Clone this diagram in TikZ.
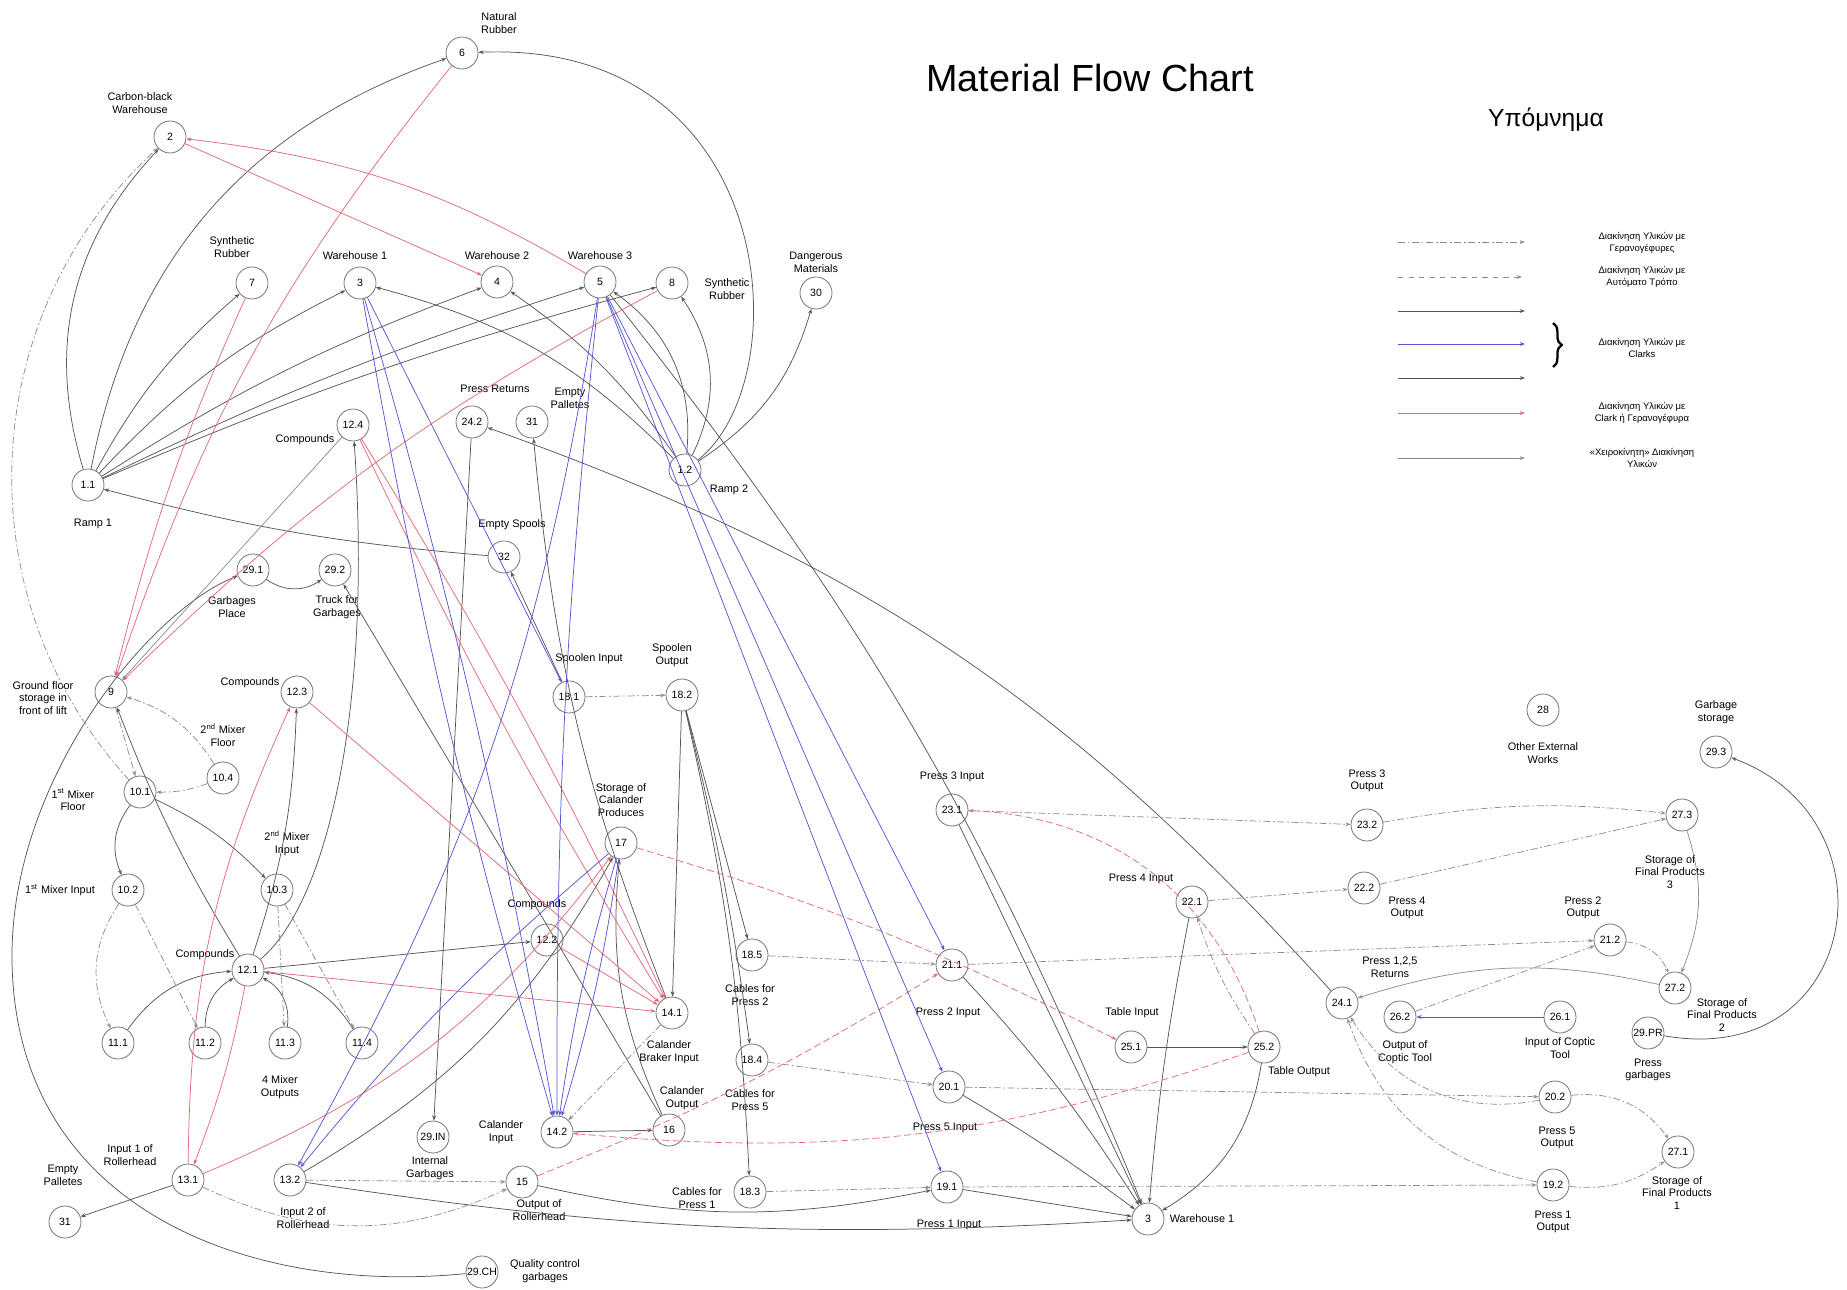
\documentclass[tikz,border=0pt]{standalone}
\usepackage{fontspec}
\setmainfont{Liberation Sans}
\usetikzlibrary{arrows.meta,decorations.pathreplacing}
\definecolor{myred}{RGB}{226,105,120}
\definecolor{myblue}{RGB}{85,85,210}
\definecolor{mydark}{RGB}{85,85,85}
\definecolor{mygray}{RGB}{140,140,140}
\begin{document}
\begin{tikzpicture}[x=0.02cm,y=-0.02cm,
 nd/.style={circle,draw=black!55,line width=0.45pt,minimum size=0.64cm,inner sep=0pt,font=\fontsize{6}{7}\selectfont},
 lb/.style={align=center,font=\fontsize{6.2}{7.2}\selectfont,inner sep=0pt},
 lg/.style={align=center,font=\fontsize{5.4}{6.6}\selectfont,inner sep=0pt},
 ar/.style={-{Stealth[length=3pt,width=2.2pt]},line width=0.42pt},
 bk/.style={ar,draw=mydark},
 gr/.style={ar,draw=mygray},
 bu/.style={ar,draw=myblue},
 rd/.style={ar,draw=myred},
 rdd/.style={ar,draw=myred,dash pattern=on 4pt off 2pt},
 cr/.style={ar,draw=mygray,dash pattern=on 4pt off 1.5pt on 1pt off 1.5pt}]
\useasboundingbox (0,0) rectangle (1847,1290);

% ---------- nodes ----------
\node[nd] (n6) at (462,53) {6};
\node[nd] (n2) at (170,137) {2};
\node[nd] (n7) at (252,283) {7};
\node[nd] (n3) at (360,283) {3};
\node[nd] (n4) at (497,282) {4};
\node[nd] (n5) at (600,282) {5};
\node[nd] (n8) at (672,283) {8};
\node[nd] (n30) at (816,293) {30};
\node[nd] (n11) at (88,485) {1.1};
\node[nd] (n12) at (685,470) {1.2};
\node[nd] (n124) at (353,425) {12.4};
\node[nd] (n242) at (472,422) {24.2};
\node[nd] (n31a) at (532,422) {31};
\node[nd] (n32) at (504,557) {32};
\node[nd] (n291) at (253,570) {29.1};
\node[nd] (n292) at (335,570) {29.2};
\node[nd] (n9) at (111,692) {9};
\node[nd] (n123) at (297,692) {12.3};
\node[nd] (n104) at (223,778) {10.4};
\node[nd] (n101) at (140,792) {10.1};
\node[nd] (n181) at (569,697) {18.1};
\node[nd] (n182) at (682,695) {18.2};
\node[nd] (n102) at (128,890) {10.2};
\node[nd] (n103) at (277,890) {10.3};
\node[nd] (n17) at (621,843) {17};
\node[nd] (n121) at (248,970) {12.1};
\node[nd] (n111) at (118,1043) {11.1};
\node[nd] (n112) at (205,1043) {11.2};
\node[nd] (n113) at (285,1043) {11.3};
\node[nd] (n114) at (362,1043) {11.4};
\node[nd] (n131) at (188,1180) {13.1};
\node[nd] (n132) at (290,1180) {13.2};
\node[nd] (n31b) at (65,1222) {31};
\node[nd] (n29in) at (433,1137) {29.IN};
\node[nd] (n29ch) at (482,1272) {29.CH};
\node[nd] (n122) at (547,940) {12.2};
\node[nd] (n141) at (672,1013) {14.1};
\node[nd] (n142) at (557,1132) {14.2};
\node[nd] (n16) at (669,1130) {16};
\node[nd] (n15) at (522,1182) {15};
\node[nd] (n185) at (752,955) {18.5};
\node[nd] (n184) at (752,1060) {18.4};
\node[nd] (n183) at (750,1192) {18.3};
\node[nd] (n231) at (952,810) {23.1};
\node[nd] (n232) at (1367,825) {23.2};
\node[nd] (n221) at (1192,902) {22.1};
\node[nd] (n222) at (1364,888) {22.2};
\node[nd] (n211) at (952,965) {21.1};
\node[nd] (n212) at (1610,940) {21.2};
\node[nd] (n201) at (949,1087) {20.1};
\node[nd] (n202) at (1555,1097) {20.2};
\node[nd] (n191) at (947,1187) {19.1};
\node[nd] (n192) at (1553,1185) {19.2};
\node[nd] (n3b) at (1148,1219) {3};
\node[nd] (n251) at (1131,1047) {25.1};
\node[nd] (n252) at (1264,1047) {25.2};
\node[nd] (n241) at (1342,1003) {24.1};
\node[nd] (n262) at (1400,1017) {26.2};
\node[nd] (n261) at (1560,1017) {26.1};
\node[nd] (n29pr) at (1648,1033) {29.PR};
\node[nd] (n271) at (1678,1152) {27.1};
\node[nd] (n272) at (1675,988) {27.2};
\node[nd] (n273) at (1682,815) {27.3};
\node[nd] (n293) at (1716,752) {29.3};
\node[nd] (n28) at (1543,710) {28};

% ---------- labels ----------
\node[lb] (t6) at (499,23) {Natural\\Rubber};
\node[lb] (t2) at (140,103) {Carbon-black\\Warehouse};
\node[lb] (t7) at (232,247) {Synthetic\\Rubber};
\node[lb] (t3) at (355,256) {Warehouse 1};
\node[lb] (t4) at (497,256) {Warehouse 2};
\node[lb] (t5) at (600,256) {Warehouse 3};
\node[lb] (t8) at (727,289) {Synthetic\\Rubber};
\node[lb] (t30) at (816,262) {Dangerous\\Materials};
\node[lb] (t242) at (495,389) {Press Returns};
\node[lb] (t31a) at (570,398) {Empty\\Palletes};
\node[lb] (t124) at (305,440) {Compounds};
\node[lb] (t11) at (93,524) {Ramp 1};
\node[lb] (t12) at (729,490) {Ramp 2};
\node[lb] (t32) at (512,525) {Empty Spools};
\node[lb] (t291) at (232,607) {Garbages\\Place};
\node[lb] (t292) at (337,607) {Truck for\\Garbages};
\node[lb] (t9) at (43,698) {Ground floor\\storage in\\front of lift};
\node[lb] (t123) at (250,683) {Compounds};
\node[lb] (t104) at (223,735) {2\textsuperscript{nd} Mixer\\Floor};
\node[lb] (t101) at (73,800) {1\textsuperscript{st} Mixer\\Floor};
\node[lb] (t103) at (287,843) {2\textsuperscript{nd} Mixer\\Input};
\node[lb] (t102) at (60,890) {1\textsuperscript{st} Mixer Input};
\node[lb] (t181) at (589,659) {Spoolen Input};
\node[lb] (t182) at (672,655) {Spoolen\\Output};
\node[lb] (t17) at (621,800) {Storage of\\Calander\\Produces};
\node[lb] (t121) at (205,955) {Compounds};
\node[lb] (t11x) at (280,1087) {4 Mixer\\Outputs};
\node[lb] (t131) at (130,1155) {Input 1 of\\Rollerhead};
\node[lb] (t31b) at (63,1175) {Empty\\Palletes};
\node[lb] (t132) at (303,1218) {Input 2 of\\Rollerhead};
\node[lb] (t29in) at (430,1168) {Internal\\Garbages};
\node[lb] (t122) at (537,905) {Compounds};
\node[lb] (t141) at (669,1052) {Calander\\Braker Input};
\node[lb] (t185) at (750,995) {Cables for\\Press 2};
\node[lb] (t184) at (750,1100) {Cables for\\Press 5};
\node[lb] (t142) at (501,1132) {Calander\\Input};
\node[lb] (t16) at (682,1098) {Calander\\Output};
\node[lb] (t15) at (539,1210) {Output of\\Rollerhead};
\node[lb] (t183) at (697,1198) {Cables for\\Press 1};
\node[lb] (t29ch) at (545,1271) {Quality control\\garbages};
\node[lb] (t231) at (952,777) {Press 3 Input};
\node[lb] (t232) at (1367,781) {Press 3\\Output};
\node[lb] (t221) at (1141,879) {Press 4 Input};
\node[lb] (t222) at (1407,908) {Press 4\\Output};
\node[lb] (t212) at (1583,908) {Press 2\\Output};
\node[lb] (t241) at (1390,967) {Press 1,2,5\\Returns};
\node[lb] (t211) at (948,1013) {Press 2 Input};
\node[lb] (t251) at (1132,1013) {Table Input};
\node[lb] (t252) at (1299,1072) {Table Output};
\node[lb] (t201) at (945,1128) {Press 5 Input};
\node[lb] (t191) at (949,1225) {Press 1 Input};
\node[lb] (t3b) at (1202,1219) {Warehouse 1};
\node[lb] (t272) at (1722,1015) {Storage of\\Final Products\\2};
\node[lb] (t262) at (1405,1052) {Output of\\Coptic Tool};
\node[lb] (t261) at (1560,1048) {Input of Coptic\\Tool};
\node[lb] (t29pr) at (1648,1070) {Press\\garbages};
\node[lb] (t202) at (1557,1138) {Press 5\\Output};
\node[lb] (t271) at (1677,1193) {Storage of\\Final Products\\1};
\node[lb] (t192) at (1553,1222) {Press 1\\Output};
\node[lb] (t28) at (1543,753) {Other External\\Works};
\node[lb] (t293) at (1716,712) {Garbage\\storage};
\node[lb] (t273) at (1670,872) {Storage of\\Final Products\\3};

\node[inner sep=0pt,font=\fontsize{21.5}{24}\selectfont] (title) at (1090,78) {Material Flow Chart};
\node[inner sep=0pt,font=\fontsize{14}{16}\selectfont] (legtitle) at (1546,120) {Υπόμνημα};

% ---------- legend ----------
\coordinate (la1) at (1398,242); \coordinate (lb1) at (1525,242);
\coordinate (la2) at (1398,277); \coordinate (lb2) at (1522,277);
\coordinate (la3) at (1398,311); \coordinate (lb3) at (1525,311);
\coordinate (la4) at (1398,344); \coordinate (lb4) at (1525,344);
\coordinate (la5) at (1398,378); \coordinate (lb5) at (1525,378);
\coordinate (la6) at (1398,413); \coordinate (lb6) at (1525,413);
\coordinate (la7) at (1398,458); \coordinate (lb7) at (1525,458);
\draw[cr] (la1) -- (lb1);
\draw[ar,draw=mygray,dashed] (la2) -- (lb2);
\draw[bk] (la3) -- (lb3);
\draw[bu] (la4) -- (lb4);
\draw[bk] (la5) -- (lb5);
\draw[rd] (la6) -- (lb6);
\draw[gr] (la7) -- (lb7);
\coordinate (br1) at (1553,323); \coordinate (br2) at (1553,367);
\draw[line width=1.3pt,decorate,decoration={brace,amplitude=5pt}] (br1) -- (br2);
\node[lg] (lt1) at (1642,243) {Διακίνηση Υλικών με\\Γερανογέφυρες};
\node[lg] (lt2) at (1642,277) {Διακίνηση Υλικών με\\Αυτόματο Τρόπο};
\node[lg] (lt3) at (1642,348) {Διακίνηση Υλικών με\\Clarks};
\node[lg] (lt4) at (1642,413) {Διακίνηση Υλικών με\\Clark ή Γερανογέφυρα};
\node[lg] (lt5) at (1642,458) {«Χειροκίνητη» Διακίνηση\\Υλικών};

% ---------- black connectors ----------
\draw[bk] (n11) to[bend left=30] (n2);
\draw[bk] (n11) to[bend left=30] (n6);
\draw[bk] (n11) to[bend left=10] (n7);
\draw[bk] (n11) to[bend left=10] (n3);
\draw[bk] (n11) to[bend left=6] (n4);
\draw[bk] (n11) to[bend left=4] (n5);
\draw[bk] (n11) to[bend left=4] (n8);
\draw[bk] (n12) .. controls (800,380) and (780,40) .. (n6);
\draw[bk] (n12) to[bend right=15] (n3);
\draw[bk] (n12) to[bend right=10] (n4);
\draw[bk] (n12) to[bend right=30] (n5);
\draw[bk] (n12) to[bend right=30] (n8);
\draw[bk] (n12) to[bend right=20] (n30);
\draw[bk] (n241) to[bend right=14] (n242);
\draw[bk] (n32) to[bend left=5] (n11);
\draw[bk] (n181) -- (n32);
\draw[bk] (n29ch) .. controls (250,1295) and (15,1210) .. (12,960) .. controls (10,780) and (150,610) .. (n291);
\draw[bk] (n291) to[bend right=35] (n292);
\draw[bk] (n16) -- (n292);
\draw[bk] (n141) to[bend left=8] (n31a);
\draw[bk] (n101) to[bend right=30] (n102);
\draw[bk] (n101) to[bend left=10] (n103);
\draw[bk] (n111) to[bend left=25] (n121);
\draw[bk] (n112) to[bend left=30] (n121);
\draw[bk] (n113) to[bend right=35] (n121);
\draw[bk] (n114) to[bend right=25] (n121);
\draw[bk] (n121) to[bend right=8] (n123);
\draw[bk] (n121) .. controls (330,900) and (372,700) .. (n124);
\draw[bk] (n121) to[bend left=5] (n9);
\draw[bk] (n121) -- (n122);
\draw[bk] (n131) -- (n31b);
\draw[bk] (n132) to[bend right=6] (n3b);
\draw[bk] (n132) to[bend right=15] (n17);
\draw[bk] (n15) to[bend right=12] (n191);
\draw[bk] (n142) -- (n16);
\draw[bk] (n16) to[bend left=15] (n17);
\draw[bk] (n182) -- (n141);
\draw[bk] (n182) to[bend left=5] (n183);
\draw[bk] (n182) to[bend left=3] (n184);
\draw[bk] (n182) -- (n185);
\draw[bk] (n251) -- (n252);
\draw[bk] (n231) -- (n3b);
\draw[bk] (n221) to[bend right=3] (n3b);
\draw[bk] (n211) to[bend left=5] (n3b);
\draw[bk] (n201) to[bend left=3] (n3b);
\draw[bk] (n191) -- (n3b);
\draw[bk] (n252) to[bend left=25] (n3b);
\draw[bk] (n5) to[bend left=8] (n3b);
\draw[bk] (n242) -- (n29in);
\draw[gr] (n124) -- (n9);
\draw[bk] (n29pr) .. controls (1860,1070) and (1900,820) .. (n293);
\draw[gr] (n272) to[bend right=15] (n241);
\draw[gr] (n273) to[bend left=20] (n272);

% ---------- red connectors ----------
\draw[rd] (n2) -- (n4);
\draw[rd] (n5) to[bend right=12] (n2);
\draw[rd] (n6) to[bend right=10] (n9);
\draw[rd] (n7) to[bend right=5] (n9);
\draw[rd] (n8) to[bend right=8] (n9);
\draw[rd] (n124) to[bend left=3] (n141);
\draw[rd] (n124) to[bend right=3] (n141);
\draw[rd] (n123) -- (n141);
\draw[rd] (n121) -- (n141);
\draw[rd] (n122) -- (n141);
\draw[rd] (n121) to[bend left=5] (n131);
\draw[rd] (n131) to[bend left=12] (n123);
\draw[rd] (n131) to[bend right=15] (n17);
\draw[rdd] (n15) to[bend right=5] (n211);
\draw[rdd] (n17) to[bend left=5] (n251);
\draw[rdd] (n252) to[bend right=35] (n231);
\draw[rdd] (n252) to[bend left=12] (n142);

% ---------- blue connectors ----------
\draw[bu] (n3) to[bend left=3] (n142);
\draw[bu] (n3) to[bend right=3] (n142);
\draw[bu] (n3) -- (n181);
\draw[bu] (n5) to[bend left=10] (n132);
\draw[bu] (n5) to[bend right=3] (n142);
\draw[bu] (n5) -- (n191);
\draw[bu] (n5) -- (n201);
\draw[bu] (n5) -- (n211);
\draw[bu] (n17) to[bend left=4] (n142);
\draw[bu] (n17) to[bend right=4] (n142);
\draw[bu] (n17) to[bend right=5] (n132);
\draw[bu] (n261) -- (n262);

% ---------- crane / dashed connectors ----------
\draw[cr] (n181) -- (n182);
\draw[cr] (n185) -- (n211);
\draw[cr] (n184) -- (n201);
\draw[cr] (n183) -- (n191);
\draw[cr] (n231) -- (n232);
\draw[cr] (n221) -- (n222);
\draw[cr] (n211) -- (n212);
\draw[cr] (n201) -- (n202);
\draw[cr] (n191) -- (n192);
\draw[cr] (n232) to[bend left=8] (n273);
\draw[cr] (n222) -- (n273);
\draw[cr] (n212) to[bend left=30] (n272);
\draw[cr] (n202) to[bend left=30] (n271);
\draw[cr] (n192) to[bend right=20] (n271);
\draw[cr] (n202) to[bend left=35] (n241);
\draw[cr] (n192) to[bend left=30] (n241);
\draw[cr] (n262) -- (n212);
\draw[cr] (n252) to[bend left=8] (n221);
\draw[cr] (n102) to[bend right=30] (n111);
\draw[cr] (n102) -- (n112);
\draw[cr] (n103) -- (n113);
\draw[cr] (n103) -- (n114);
\draw[cr] (n104) to[bend right=20] (n9);
\draw[cr] (n104) to[bend left=10] (n101);
\draw[cr] (n9) -- (n101);
\draw[cr] (n101) to[bend left=45] (n2);
\draw[cr] (n141) -- (n142);
\draw[cr] (n131) to[bend right=25] (n15);
\draw[cr] (n132) -- (n15);
\end{tikzpicture}
\end{document}
